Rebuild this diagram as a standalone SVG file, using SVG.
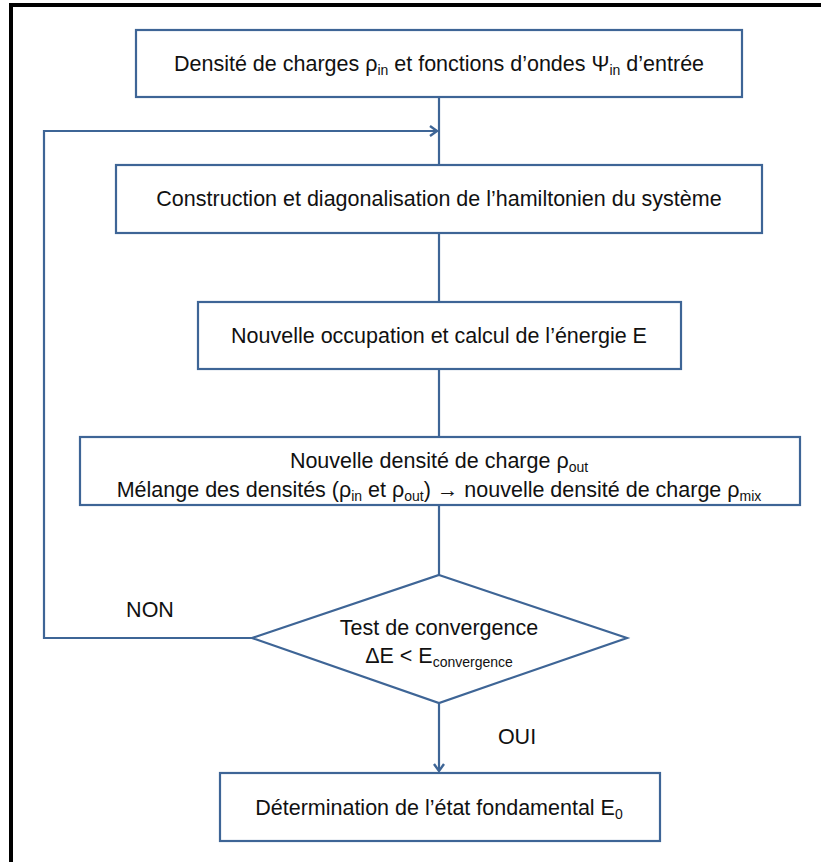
<svg xmlns="http://www.w3.org/2000/svg" width="821" height="862" viewBox="0 0 821 862">
<style>
.box{fill:#fff;stroke:#3E6596;stroke-width:2.2}
.ln{fill:none;stroke:#3E6596;stroke-width:2.2}
text{font-family:"Liberation Sans",Arial,sans-serif;font-size:21.5px;fill:#111;text-anchor:middle}
.sub{font-size:14px}
</style>
<defs>
<marker id="ah" markerWidth="12" markerHeight="12" refX="9" refY="6" orient="auto" markerUnits="userSpaceOnUse">
<path d="M2,1 L9,6 L2,11" fill="none" stroke="#3E6596" stroke-width="2.4"/>
</marker>
</defs>
<rect x="0" y="0" width="821" height="862" fill="#fff"/>
<g id="frame">
<rect x="9" y="3" width="4" height="859" fill="#000"/>
<rect x="9" y="3" width="812" height="4" fill="#000"/>
</g>
<g id="connectors">
<line class="ln" x1="439" y1="97" x2="439" y2="165"/>
<polyline class="ln" points="252,638 44,638 44,131 437,131" marker-end="url(#ah)"/>
<line class="ln" x1="439" y1="233" x2="439" y2="302"/>
<line class="ln" x1="439" y1="369" x2="439" y2="437"/>
<line class="ln" x1="439" y1="505" x2="439" y2="575"/>
<line class="ln" x1="439" y1="703" x2="439" y2="771" marker-end="url(#ah)"/>
<text x="150" y="617">NON</text>
<text x="517" y="744">OUI</text>
</g>
<g id="n1">
<rect class="box" x="136" y="30" width="606" height="67"/>
<text x="439" y="71">Densité de charges ρ<tspan class="sub" dy="4">in</tspan><tspan dy="-4"> et fonctions d’ondes Ψ</tspan><tspan class="sub" dy="4">in</tspan><tspan dy="-4"> d’entrée</tspan></text>
</g>
<g id="n2">
<rect class="box" x="116" y="165" width="646" height="68"/>
<text x="439" y="206">Construction et diagonalisation de l’hamiltonien du système</text>
</g>
<g id="n3">
<rect class="box" x="198" y="302" width="483" height="67"/>
<text x="439" y="343">Nouvelle occupation et calcul de l’énergie E</text>
</g>
<g id="n4">
<rect class="box" x="80" y="437" width="720" height="68"/>
<text x="439" y="468">Nouvelle densité de charge ρ<tspan class="sub" dy="4">out</tspan></text>
<text x="439" y="497">Mélange des densités (ρ<tspan class="sub" dy="4">in</tspan><tspan dy="-4"> et ρ</tspan><tspan class="sub" dy="4">out</tspan><tspan dy="-4">) → nouvelle densité de charge ρ</tspan><tspan class="sub" dy="4">mix</tspan></text>
</g>
<g id="n5">
<polygon class="box" points="439,575 627,638 439,703 252,638"/>
<text x="439" y="635">Test de convergence</text>
<text x="439" y="663">ΔE &lt; E<tspan class="sub" dy="4">convergence</tspan></text>
</g>
<g id="n6">
<rect class="box" x="220" y="773" width="440" height="68"/>
<text x="439" y="815">Détermination de l’état fondamental E<tspan class="sub" dy="4">0</tspan></text>
</g>
</svg>
